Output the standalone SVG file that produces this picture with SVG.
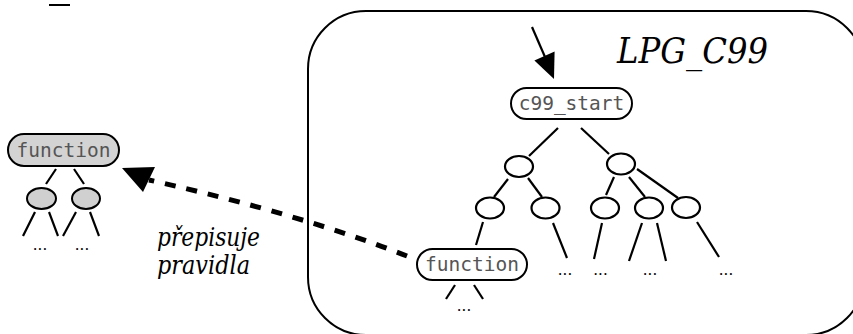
<svg xmlns="http://www.w3.org/2000/svg" width="853" height="334" viewBox="0 0 853 334">
<style>
.box{fill:#fff;stroke:#000;stroke-width:2}
.gbox{fill:#d3d3d3;stroke:#000;stroke-width:2}
.ell{fill:#fff;stroke:#000;stroke-width:2.2}
.gell{fill:#d0d0d0;stroke:#000;stroke-width:2}
.mono{font-family:"DejaVu Sans Mono","Liberation Mono",monospace;font-size:19.5px;fill:#555;text-anchor:middle}
.it{font-family:"DejaVu Serif","Liberation Serif",serif;font-style:italic;fill:#000}
.dots{font-family:"DejaVu Serif","Liberation Serif",serif;font-size:15px;fill:#000;text-anchor:middle}
.edge{stroke:#000;stroke-width:2.2;fill:none}
</style>
<rect x="0" y="0" width="853" height="334" fill="#fff"/>
<line x1="49" y1="5" x2="70" y2="5" stroke="#000" stroke-width="2"/>

<g id="lpg_c99">
<rect x="308" y="11" width="556" height="324" rx="58" ry="58" fill="none" stroke="#000" stroke-width="2"/>
<text x="617" y="63" class="it" font-size="36" textLength="151" lengthAdjust="spacingAndGlyphs">LPG_C99</text>
</g>

<g id="connectors">
<line class="edge" x1="532" y1="27" x2="545" y2="57"/>
<polygon points="554,79 534.4,60.4 554.6,51.6" fill="#000"/>
<path d="M407,256 Q300,214 149,180" fill="none" stroke="#000" stroke-width="5" stroke-dasharray="11 11"/>
<polygon points="122,168 155,167 143,192" fill="#000"/>
<line class="edge" x1="56" y1="169" x2="46" y2="184"/>
<line class="edge" x1="74" y1="169" x2="84" y2="184"/>
<line class="edge" x1="35" y1="212" x2="23" y2="236"/>
<line class="edge" x1="49" y1="212" x2="58" y2="236"/>
<line class="edge" x1="76" y1="212" x2="63" y2="236"/>
<line class="edge" x1="90" y1="212" x2="99" y2="236"/>
<line class="edge" x1="558" y1="128" x2="529" y2="156"/>
<line class="edge" x1="581" y1="128" x2="609" y2="154"/>
<line class="edge" x1="508" y1="179" x2="494" y2="197"/>
<line class="edge" x1="528" y1="178" x2="542" y2="197"/>
<line class="edge" x1="614" y1="177" x2="606" y2="195"/>
<line class="edge" x1="629" y1="177" x2="645" y2="197"/>
<line class="edge" x1="637" y1="169" x2="678" y2="198"/>
<line class="edge" x1="483" y1="222" x2="476" y2="245"/>
<line class="edge" x1="553" y1="223" x2="567" y2="258"/>
<line class="edge" x1="602" y1="223" x2="594" y2="259"/>
<line class="edge" x1="642" y1="223" x2="629" y2="261"/>
<line class="edge" x1="657" y1="223" x2="666" y2="261"/>
<line class="edge" x1="697" y1="222" x2="719" y2="257"/>
<line class="edge" x1="455" y1="285" x2="446" y2="299"/>
<line class="edge" x1="474" y1="285" x2="483" y2="299"/>
</g>

<g id="function_left">
<rect class="gbox" x="8" y="134" width="111" height="32" rx="16"/>
<text class="mono" x="63.5" y="157">function</text>
</g>
<g id="fl_child1"><ellipse class="gell" cx="41.5" cy="198.5" rx="14.5" ry="10.5"/></g>
<g id="fl_child2"><ellipse class="gell" cx="86" cy="198.5" rx="14" ry="10.5"/></g>
<g id="fl_dots1"><text class="dots" x="40" y="250">...</text></g>
<g id="fl_dots2"><text class="dots" x="82" y="250">...</text></g>

<g id="label">
<text class="it" font-size="26" x="157" y="246" textLength="103" lengthAdjust="spacingAndGlyphs">přepisuje</text>
<text class="it" font-size="26" x="157" y="274" textLength="93" lengthAdjust="spacingAndGlyphs">pravidla</text>
</g>

<g id="c99_start">
<rect class="box" x="511" y="88" width="121" height="31" rx="15.5"/>
<text class="mono" x="571.5" y="110">c99_start</text>
</g>
<g id="n1"><ellipse class="ell" cx="519" cy="166.5" rx="14" ry="10.5"/></g>
<g id="n2"><ellipse class="ell" cx="621" cy="164" rx="14" ry="10.5"/></g>
<g id="n3"><ellipse class="ell" cx="490" cy="208" rx="14" ry="10.5"/></g>
<g id="n4"><ellipse class="ell" cx="545.5" cy="208" rx="14" ry="10.5"/></g>
<g id="n5"><ellipse class="ell" cx="605" cy="208" rx="14" ry="10.5"/></g>
<g id="n6"><ellipse class="ell" cx="649" cy="208" rx="14" ry="10.5"/></g>
<g id="n7"><ellipse class="ell" cx="686" cy="207.5" rx="14" ry="10.5"/></g>
<g id="function_inner">
<rect class="box" x="417" y="249" width="110" height="31" rx="15.5"/>
<text class="mono" x="472" y="271">function</text>
</g>
<g id="d1"><text class="dots" x="565" y="275">...</text></g>
<g id="d2"><text class="dots" x="600.5" y="275">...</text></g>
<g id="d3"><text class="dots" x="650" y="275">...</text></g>
<g id="d4"><text class="dots" x="726" y="275">...</text></g>
<g id="d5"><text class="dots" x="464" y="311">...</text></g>
</svg>
